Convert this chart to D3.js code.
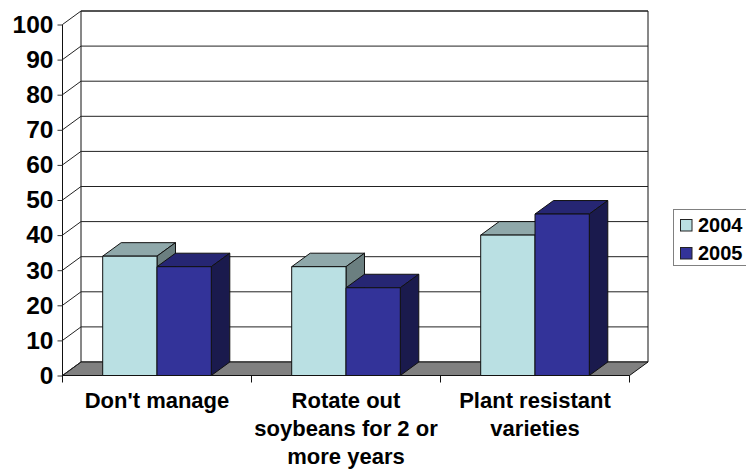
<!DOCTYPE html>
<html><head><meta charset="utf-8">
<script src="https://cdn.jsdelivr.net/npm/d3@7"></script>
<style>html,body{margin:0;padding:0;background:#fff}svg{display:block}text{font-family:"Liberation Sans",Arial,sans-serif;font-weight:bold;fill:#000}</style>
</head><body><svg id="c" width="746" height="469"></svg>
<script>
const categories = ["Don't manage", "Rotate out soybeans for 2 or more years", "Plant resistant varieties"];
const categoryLines = [["Don't manage"], ["Rotate out", "soybeans for 2 or", "more years"], ["Plant resistant", "varieties"]];
const seriesNames = ["2004", "2005"];
const values2004 = [34, 31, 40];
const values2005 = [31, 25, 46];
const yTicks = [0,10,20,30,40,50,60,70,80,90,100];

const colors = {
  "2004": {front:"#BAE0E3", top:"#8FA8AA", side:"#6B7F80"},
  "2005": {front:"#333399", top:"#262673", side:"#1A1A4D"}
};
const dx = 18.5, dy = -13.5;
const svg = d3.select("#c");
const y = d3.scaleLinear().domain([0,100]).range([375.5,24.5]);
const x = d3.scaleBand().domain(categories).range([62.5,629.5]);
const inner = d3.scaleBand().domain(seriesNames).range([0,x.bandwidth()]).paddingInner(0).paddingOuter(0.74);
const line = "#111";
const poly = (pts,fill,stroke=line,sw=1)=>svg.append("polygon").attr("points",pts.map(p=>p.join(",")).join(" ")).attr("fill",fill).attr("stroke",stroke).attr("stroke-width",sw).attr("stroke-linejoin","miter");
const seg = (x1,y1,x2,y2,c=line,sw=1)=>svg.append("line").attr("x1",x1).attr("y1",y1).attr("x2",x2).attr("y2",y2).attr("stroke",c).attr("stroke-width",sw);

const x0 = x.range()[0], x1 = x.range()[1], yb = y(0), yt = y(100);
// back wall
poly([[x0+dx,yt+dy],[x1+dx,yt+dy],[x1+dx,yb+dy],[x0+dx,yb+dy]],"#fff");
// floor
poly([[x0,yb],[x0+dx,yb+dy],[x1+dx,yb+dy],[x1,yb]],"#808080");
// gridlines
yTicks.forEach(t=>{
  if(t>0){ seg(x0+dx,y(t)+dy,x1+dx,y(t)+dy,"#222"); }
  seg(x0,y(t),x0+dx,y(t)+dy,"#222");
});
// y axis
const yAxis = d3.axisLeft(y).tickValues(yTicks).tickSize(5).tickPadding(4);
const gy = svg.append("g").attr("transform",`translate(${x0},0)`).call(yAxis);
gy.select(".domain").attr("stroke",line).attr("d",`M0,${yt}V${yb}`);
gy.selectAll(".tick line").attr("stroke","#333");
gy.selectAll("text").style("font-size","24.5px").style("font-family",'"Liberation Sans",Arial,sans-serif').style("font-weight","bold").attr("fill","#000");
// x axis line + ticks at band edges
const edges = categories.map(c=>x(c)).concat([x1]);
seg(x0,yb,x1,yb);
edges.forEach(e=>seg(e,yb,e,yb+7));
// bars
const series = [values2004, values2005];
categories.forEach((c,i)=>{
  seriesNames.forEach((s,j)=>{
    const l = x(c)+inner(s), r = l+inner.bandwidth(), top = y(series[j][i]);
    const col = colors[s];
    poly([[l,top],[l+dx,top+dy],[r+dx,top+dy],[r,top]],col.top);
    poly([[r,top],[r+dx,top+dy],[r+dx,yb+dy],[r,yb]],col.side);
    poly([[l,top],[r,top],[r,yb],[l,yb]],col.front);
  });
});
// category labels
categories.forEach((c,i)=>{
  const cx = x(c)+x.bandwidth()/2;
  categoryLines[i].forEach((t,k)=>{
    svg.append("text").attr("x",cx).attr("y",408+k*28).attr("text-anchor","middle").style("font-size","22px").text(t);
  });
});
// legend
svg.append("rect").attr("x",673.5).attr("y",209.5).attr("width",80).attr("height",56).attr("fill","#fff").attr("stroke","#808080");
seriesNames.forEach((s,j)=>{
  const ly = 219.5+j*28;
  svg.append("rect").attr("x",680.5).attr("y",ly).attr("width",11.5).attr("height",11.5).attr("fill",colors[s].front).attr("stroke","#222");
  svg.append("text").attr("x",698).attr("y",ly+12.5).style("font-size","20px").text(s);
});
</script></body></html>
